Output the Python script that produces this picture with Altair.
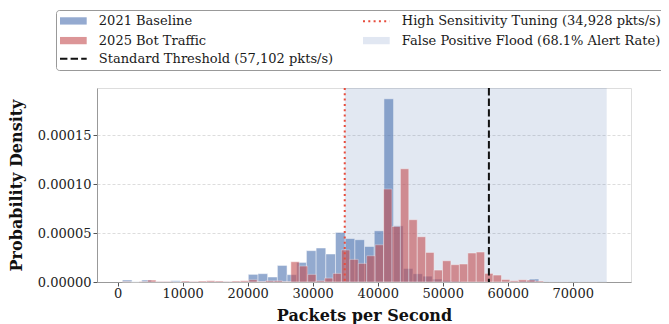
import altair as alt
import pandas as pd

# ---- data ----
BLUE_START = 723      # first bin edge of the 2021 histogram
BLUE_WIDTH = 1490     # bin width of the 2021 histogram
RED_START = 718       # first bin edge of the 2025 histogram
RED_WIDTH = 1296      # bin width of the 2025 histogram

baseline_density_e5 = [0.2, 0.03, 0.2, 0.05, 0.05, 0.13, 0.05, 0.05, 0.03, 0.05,
                       0.05, 0.03, 0.03, 0.78, 0.85, 0.51, 1.69, 0.75, 2.0, 3.2,
                       3.47, 2.86, 5.06, 4.45, 4.32, 3.63, 5.23, 18.7, 5.74, 1.39,
                       0.85, 0.6, 0.31, 0.16, 0.1, 0.05, 0.05, 0.05, 0.03, 0.03,
                       0.05, 0.1, 0.31, 0.05, 0.03, 0.03, 0.05, 0.03, 0.03, 0.05]

bot_density_e5 = [0.05, 0.0, 0.05, 0.2, 0.05, 0.05, 0.0, 0.1, 0.05, 0.1,
                  0.13, 0.1, 0.05, 0.1, 0.13, 0.23, 0.05, 0.13, 0.13, 0.05,
                  2.07, 1.63, 0.78, 0.13, 0.4, 0.88, 3.27, 2.31, 1.9, 2.68,
                  3.8, 9.49, 5.67, 11.56, 6.36, 4.62, 3.02, 1.22, 2.17, 1.77,
                  1.84, 2.96, 3.06, 0.88, 0.71, 0.26, 0.13, 0.23, 0.2, 0.1]

HIGH_SENS = 34928
STANDARD = 57102
SPAN_END = 75223

x_ticks = [0, 10000, 20000, 30000, 40000, 50000, 60000, 70000]
y_ticks = [0.0, 0.00005, 0.0001, 0.00015]

LBL_BASE = "2021 Baseline"
LBL_BOT = "2025 Bot Traffic"
LBL_STD = "Standard Threshold (57,102 pkts/s)"
LBL_HS = "High Sensitivity Tuning (34,928 pkts/s)"
LBL_FP = "False Positive Flood (68.1% Alert Rate)"
legend_order = [LBL_BASE, LBL_BOT, LBL_STD, LBL_HS, LBL_FP]

# ---- tables ----
def hist_table(start, width, dens):
    return pd.DataFrame({
        "bin_start": [start + k * width for k in range(len(dens))],
        "bin_end": [start + (k + 1) * width for k in range(len(dens))],
        "density": [d * 1e-5 for d in dens],
    })

df_blue = hist_table(BLUE_START, BLUE_WIDTH, baseline_density_e5)
df_red = hist_table(RED_START, RED_WIDTH, bot_density_e5)
df_span = pd.DataFrame({"start": [HIGH_SENS], "end": [SPAN_END]})
df_hs = pd.DataFrame({"x": [HIGH_SENS]})
df_std = pd.DataFrame({"x": [STANDARD]})
df_leg = pd.DataFrame({"series": legend_order})

FONT = "DejaVu Serif"
BLUE = "#4C72B0"
RED = "#C44E52"
HS_RED = "#E74C3C"

xscale = alt.Scale(domain=[-3180, 78960], nice=False, zero=False)
yscale = alt.Scale(domain=[0, 0.000198], nice=False)

xaxis = alt.Axis(values=x_ticks, format="d", grid=False, title="Packets per Second",
                 labelFont=FONT, labelFontSize=13, labelColor="#222",
                 titleFont=FONT, titleFontSize=16, titleFontWeight="bold", titleColor="#111",
                 titlePadding=7, tickSize=4, tickColor="#555", labelPadding=1,
                 domainColor="#999", labelFlush=False)
yaxis = alt.Axis(values=y_ticks, format=".5f", grid=True, gridColor="#d4d4d4",
                 gridDash=[3, 2], gridWidth=0.8, title="Probability Density",
                 labelFont=FONT, labelFontSize=13, labelColor="#222",
                 titleFont=FONT, titleFontSize=16, titleFontWeight="bold", titleColor="#111",
                 titlePadding=13, tickSize=4, tickColor="#555", labelPadding=2,
                 domainColor="#999")

span = alt.Chart(df_span).mark_rect(color=BLUE, opacity=0.16).encode(
    x=alt.X("start:Q", scale=xscale, axis=xaxis),
    x2="end:Q",
)

bars_blue = alt.Chart(df_blue).mark_rect(color=BLUE, opacity=0.6, stroke="white", strokeWidth=0.5).encode(
    x=alt.X("bin_start:Q", scale=xscale, axis=xaxis),
    x2="bin_end:Q",
    y=alt.Y("density:Q", scale=yscale, axis=yaxis),
    y2=alt.datum(0),
)

bars_red = alt.Chart(df_red).mark_rect(color=RED, opacity=0.6, stroke="white", strokeWidth=0.5).encode(
    x=alt.X("bin_start:Q", scale=xscale, axis=xaxis),
    x2="bin_end:Q",
    y=alt.Y("density:Q", scale=yscale, axis=yaxis),
    y2=alt.datum(0),
)

rule_hs = alt.Chart(df_hs).mark_rule(color=HS_RED, strokeWidth=2, strokeDash=[2, 3.3]).encode(
    x=alt.X("x:Q", scale=xscale, axis=xaxis)
)
rule_std = alt.Chart(df_std).mark_rule(color="#111", strokeWidth=2, strokeDash=[7.4, 3.2]).encode(
    x=alt.X("x:Q", scale=xscale, axis=xaxis)
)

RECT_PATH = "M-2.67,-0.73H2.67V0.73H-2.67Z"
LINE_PATH = "M-2.67,0H2.67"
leg = alt.Legend(title=None, orient="none", legendX=-41, legendY=-78, columns=2,
                 columnPadding=24, rowPadding=3.1, padding=4, symbolSize=100,
                 symbolStrokeWidth=2, symbolOffset=6.85, labelOffset=19,
                 symbolOpacity=1, labelFont=FONT, labelFontSize=13, labelColor="#1a1a1a",
                 labelLimit=0, strokeColor="#999", fillColor="white", cornerRadius=3,
                 symbolLimit=0)

fills = ["#94AAD0", "#DC9597", "transparent", "transparent", "#E1E7F2"]
strokes = ["transparent", "transparent", "#111", HS_RED, "transparent"]
shapes = [RECT_PATH, RECT_PATH, LINE_PATH, LINE_PATH, RECT_PATH]
dashes = [[1, 0], [1, 0], [7.4, 3.2], [2, 3.3], [1, 0]]

legend_layer = alt.Chart(df_leg).mark_point(opacity=0).encode(
    fill=alt.Fill("series:N", scale=alt.Scale(domain=legend_order, range=fills), legend=leg),
    stroke=alt.Stroke("series:N", scale=alt.Scale(domain=legend_order, range=strokes), legend=leg),
    shape=alt.Shape("series:N", scale=alt.Scale(domain=legend_order, range=shapes), legend=leg),
    strokeDash=alt.StrokeDash("series:N", scale=alt.Scale(domain=legend_order, range=dashes), legend=leg),
)

chart = alt.layer(span, bars_blue, bars_red, rule_hs, rule_std, legend_layer).properties(
    width=534, height=194,
    autosize=alt.AutoSizeParams(type="none"),
    padding={"left": 89, "top": 80, "right": 30, "bottom": 42},
).configure_view(stroke=None).configure(background="white")

chart.save("out.html", embed_options={"renderer": "svg", "actions": False})
